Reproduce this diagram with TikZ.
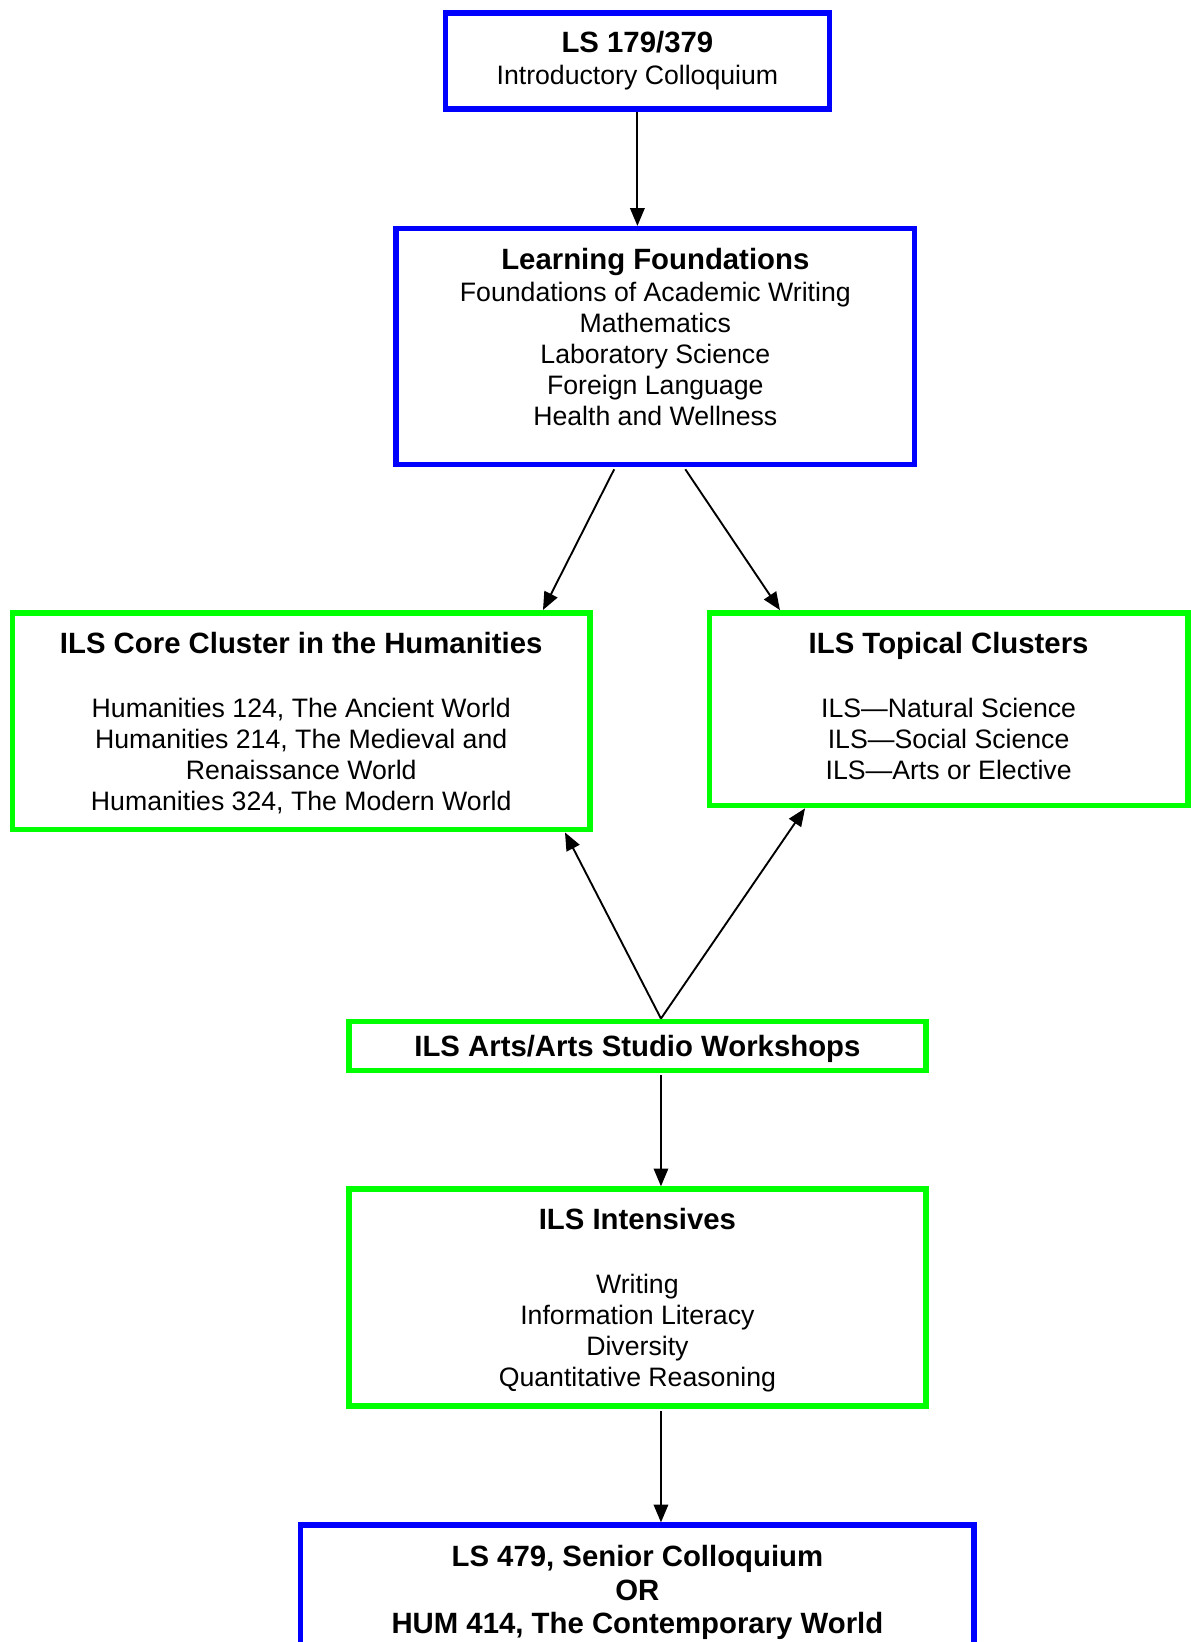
\documentclass[tikz,border=0pt]{standalone}
\usepackage{fontspec}
\setmainfont{Liberation Sans}
\usetikzlibrary{arrows.meta}
\definecolor{lsblue}{RGB}{0,0,255}
\definecolor{ilsgreen}{RGB}{0,255,0}
\newcommand{\boxtitle}[1]{{\fontsize{13.2}{14.6}\selectfont\bfseries #1}}

\begin{document}
\begin{tikzpicture}[x=0.45pt, y=0.45pt]
	\tikzstyle{course}=[draw, line width=2.5pt, align=center, inner sep=2pt, text depth=0pt,
	font=\fontsize{12}{13.9}\selectfont]
	\tikzstyle{bluebox}=[course, draw=lsblue]
	\tikzstyle{greenbox}=[course, draw=ilsgreen]
	\tikzstyle{flow}=[black, line width=0.85pt, -{Triangle[length=8pt, width=6.5pt]}]
	\useasboundingbox (0,0) rectangle (1190,-1642);
	% program boxes, top to bottom
	\node[bluebox, text depth=, minimum width=172.8pt, minimum height=43.2pt] (intro) at (637.4,-61)
	{\boxtitle{LS 179/379}\\[0.5pt] Introductory Colloquium};
	\node[bluebox, minimum width=233.3pt, minimum height=106pt] (found) at (655.3,-346.5)
	{\boxtitle{Learning Foundations}\\[0.5pt] Foundations of Academic Writing\\ Mathematics\\
	Laboratory Science\\ Foreign Language\\ Health and Wellness\\[-5pt] \mbox{}};
	\node[greenbox, minimum width=259.7pt, minimum height=97.6pt] (humcore) at (301.2,-721.2)
	{\boxtitle{ILS Core Cluster in the Humanities}\\[15pt] Humanities 124, The Ancient World\\
	Humanities 214, The Medieval and\\ Renaissance World\\ Humanities 324, The Modern World};
	\node[greenbox, minimum width=215.4pt, minimum height=86.7pt] (topical) at (948.6,-709.2)
	{\boxtitle{ILS Topical Clusters}\\[15pt] ILS—Natural Science\\ ILS—Social Science\\
	ILS—Arts or Elective\\[-11pt] \mbox{}};
	\node[greenbox, minimum width=259.7pt, minimum height=22.1pt] (arts) at (637.4,-1045.9)
	{\boxtitle{ILS Arts/Arts Studio Workshops}};
	\node[greenbox, minimum width=259.7pt, minimum height=97.5pt] (intens) at (637.4,-1297.4)
	{\boxtitle{ILS Intensives}\\[15pt] Writing\\ Information Literacy\\ Diversity\\ Quantitative Reasoning};
	\node[bluebox, anchor=north, minimum width=303.1pt, inner ysep=9pt,
	font=\fontsize{13.2}{15.1}\selectfont\bfseries] (senior) at (637.4,-1522.4)
	{LS 479, Senior Colloquium\\ OR\\ HUM 414, The Contemporary World\\[20pt] \mbox{}};
	% arrows
	\draw[flow] (intro.south) -- (intro.south |- found.north);
	\draw[flow] ([xshift=-18.5pt, yshift=-1pt]found.south) -- ([xshift=108.8pt]humcore.north);
	\draw[flow] ([xshift=13.5pt, yshift=-1pt]found.south) -- ([xshift=-75.9pt]topical.north);
	\draw[flow] ([xshift=10.6pt]arts.north) -- ([xshift=118.7pt]humcore.south);
	\draw[flow] ([xshift=10.6pt]arts.north) -- ([xshift=-64.6pt]topical.south);
	\draw[flow] ([xshift=10.6pt, yshift=-1pt]arts.south) -- ([xshift=10.6pt]intens.north);
	\draw[flow] ([xshift=10.6pt, yshift=-1pt]intens.south) -- ([xshift=10.6pt]senior.north);
\end{tikzpicture}
\end{document}
